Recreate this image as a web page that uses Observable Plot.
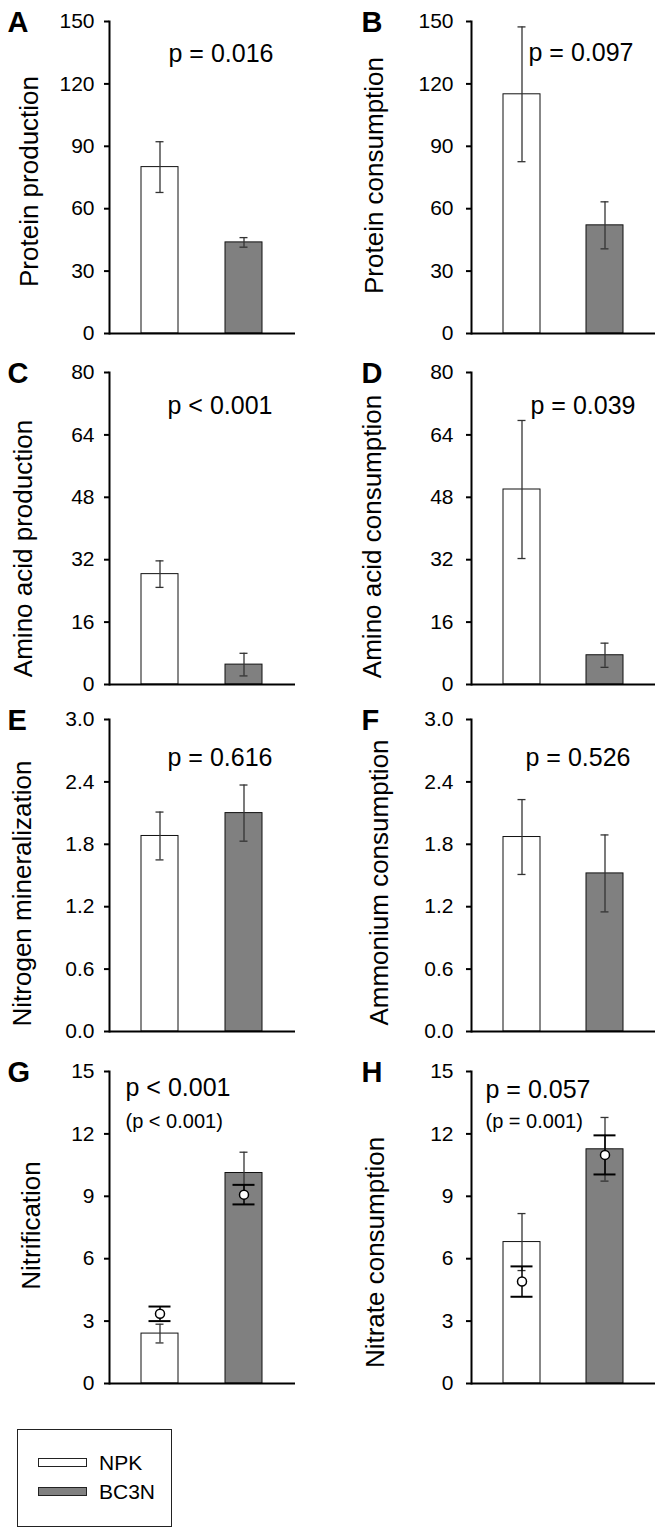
<!DOCTYPE html>
<html><head><meta charset="utf-8">
<script src="https://cdn.jsdelivr.net/npm/d3@7"></script>
<script src="https://cdn.jsdelivr.net/npm/@observablehq/plot@0.6"></script>
<style>
body{margin:0;background:#fff;}
#root{position:relative;width:663px;height:1535px;font-family:"Liberation Sans",Arial,sans-serif;overflow:hidden;}
.panel{position:absolute;}
.legend{position:absolute;left:17px;top:1429px;width:155px;height:98px;border:1px solid #222;box-sizing:border-box;}
.sw{position:absolute;left:20px;width:49px;height:9px;border:1px solid #222;box-sizing:border-box;}
.lt{position:absolute;left:81px;font-size:21px;line-height:21px;color:#000;}
</style></head><body><div id="root"></div>
<script>
// ---- data ----
const groups = ["NPK", "BC3N"];
const groupFill = ["#ffffff", "#808080"];
const panelLetters = ["A", "B", "C", "D", "E", "F", "G", "H"];
const yTitles = ["Protein production", "Protein consumption", "Amino acid production", "Amino acid consumption",
  "Nitrogen mineralization", "Ammonium consumption", "Nitrification", "Nitrate consumption"];
const yTicks = [
  [0, 30, 60, 90, 120, 150], [0, 30, 60, 90, 120, 150],
  [0, 16, 32, 48, 64, 80], [0, 16, 32, 48, 64, 80],
  [0, 0.6, 1.2, 1.8, 2.4, 3.0], [0, 0.6, 1.2, 1.8, 2.4, 3.0],
  [0, 3, 6, 9, 12, 15], [0, 3, 6, 9, 12, 15]
];
const meanNPK  = [80.0, 115.0, 28.3, 50.0, 1.88, 1.87, 2.40, 6.80];
const seNPK    = [12.2, 32.4, 3.4, 17.7, 0.23, 0.36, 0.45, 1.37];
const meanBC3N = [43.8, 52.0, 5.1, 7.5, 2.10, 1.52, 10.12, 11.26];
const seBC3N   = [2.3, 11.3, 2.9, 3.1, 0.27, 0.37, 1.00, 1.53];
// open-circle overlay (panels G, H)
const circleNPK    = [null, null, null, null, null, null, 3.35, 4.90];
const circleSeNPK  = [null, null, null, null, null, null, 0.35, 0.73];
const circleBC3N   = [null, null, null, null, null, null, 9.08, 10.99];
const circleSeBC3N = [null, null, null, null, null, null, 0.47, 0.94];
const pMain = ["p = 0.016", "p = 0.097", "p < 0.001", "p = 0.039", "p = 0.616", "p = 0.526", "p < 0.001", "p = 0.057"];
const pSecond = [null, null, null, null, null, null, "(p < 0.001)", "(p = 0.001)"];

// ---- layout (positions/styles) ----
const rowTops = [0, 351, 698, 1050];
const colLefts = [0, 331];
const colWidths = [331, 332];
const colMarginLeft = [109, 140];
const colMarginRight = [36, 8];
const letterDx = [-102, -110];
const tickPad = [10, 13];
const titleDx = [-80, -97, -86, -99, -87, -92, -78, -96];
const titleDy = [4, -2, 20, 8, 18, 7, -2, 25];
const pDx = [59, 57, 58, 59, 58, 54, 16, 14];
const pDy = [40, 39, 41, 41, 46, 46, 24, 26];
const p2Dy = 56;

const font = "Liberation Sans, Arial, sans-serif";
const root = document.getElementById("root");

panelLetters.forEach((letter, i) => {
  const col = i % 2, row = Math.floor(i / 2);
  const ticks = yTicks[i];
  const rows = groups.map((g, k) => ({
    group: g,
    mean: k === 0 ? meanNPK[i] : meanBC3N[i],
    se: k === 0 ? seNPK[i] : seBC3N[i],
    fill: groupFill[k]
  }));
  const circ = circleNPK[i] == null ? [] : groups.map((g, k) => ({
    group: g,
    mean: k === 0 ? circleNPK[i] : circleBC3N[i],
    se: k === 0 ? circleSeNPK[i] : circleSeBC3N[i]
  }));
  const fmt = (i === 4 || i === 5) ? d3.format(".1f") : (d => String(d));
  const marks = [
    Plot.barY(rows, {x: "group", y: "mean", fill: "fill", stroke: "#111", strokeWidth: 1}),
    Plot.ruleX(rows, {x: "group", y1: d => d.mean - d.se, y2: d => d.mean + d.se, stroke: "#333", strokeWidth: 1.3}),
    Plot.tickY(rows, {x: "group", y: d => d.mean + d.se, stroke: "#333", strokeWidth: 1.3, insetLeft: 14.5, insetRight: 14.5}),
    Plot.tickY(rows, {x: "group", y: d => d.mean - d.se, stroke: "#333", strokeWidth: 1.3, insetLeft: 14.5, insetRight: 14.5}),
    Plot.ruleX(circ, {x: "group", y1: d => d.mean - d.se, y2: d => d.mean + d.se, stroke: "#000", strokeWidth: 1.5}),
    Plot.tickY(circ, {x: "group", y: d => d.mean + d.se, stroke: "#000", strokeWidth: 2, insetLeft: 7.5, insetRight: 7.5}),
    Plot.tickY(circ, {x: "group", y: d => d.mean - d.se, stroke: "#000", strokeWidth: 2, insetLeft: 7.5, insetRight: 7.5}),
    Plot.dot(circ, {x: "group", y: "mean", r: 4.5, fill: "white", stroke: "#000", strokeWidth: 1.5}),
    Plot.ruleY([ticks[0]], {stroke: "#000", strokeWidth: 2}),
    Plot.frame({anchor: "left", stroke: "#000", strokeWidth: 2}),
    Plot.axisY({ticks, tickFormat: fmt, tickSize: 5, tickPadding: tickPad[col], strokeWidth: 2, fontSize: 21, label: null, fill: "#000"}),
    Plot.text([yTitles[i]], {text: d => d, frameAnchor: "left", rotate: -90, textAnchor: "middle", lineAnchor: "middle",
      dx: titleDx[i], dy: titleDy[i], fontSize: 26, fill: "#000"}),
    Plot.text([letter], {text: d => d, frameAnchor: "top-left", textAnchor: "start", lineAnchor: "bottom",
      dx: letterDx[col], dy: 10, fontSize: 29, fontWeight: "bold", fill: "#000"}),
    Plot.text([pMain[i]], {text: d => d, frameAnchor: "top-left", textAnchor: "start", lineAnchor: "bottom",
      dx: pDx[i], dy: pDy[i], fontSize: 25, fill: "#000"})
  ];
  if (pSecond[i]) {
    marks.push(Plot.text([pSecond[i]], {text: d => d, frameAnchor: "top-left", textAnchor: "start", lineAnchor: "bottom",
      dx: pDx[i], dy: p2Dy, fontSize: 20, fill: "#000"}));
  }
  const chart = Plot.plot({
    width: colWidths[col],
    height: 350,
    marginTop: 21,
    marginBottom: 17,
    marginLeft: colMarginLeft[col],
    marginRight: colMarginRight[col],
    style: {fontFamily: font, background: "transparent", overflow: "visible"},
    x: {type: "band", domain: groups, paddingInner: 0.554, paddingOuter: 0.381, axis: null},
    y: {domain: [ticks[0], ticks[ticks.length - 1]], axis: null},
    marks
  });
  const wrap = document.createElement("div");
  wrap.className = "panel";
  wrap.style.left = colLefts[col] + "px";
  wrap.style.top = rowTops[row] + "px";
  wrap.appendChild(chart);
  root.appendChild(wrap);
});

// legend
const legend = document.createElement("div");
legend.className = "legend";
groups.forEach((g, k) => {
  const sw = document.createElement("div");
  sw.className = "sw";
  sw.style.top = (28 + k * 29) + "px";
  sw.style.background = groupFill[k];
  legend.appendChild(sw);
  const t = document.createElement("div");
  t.className = "lt";
  t.style.top = (22 + k * 29) + "px";
  t.textContent = g;
  legend.appendChild(t);
});
root.appendChild(legend);
</script>
</body></html>
